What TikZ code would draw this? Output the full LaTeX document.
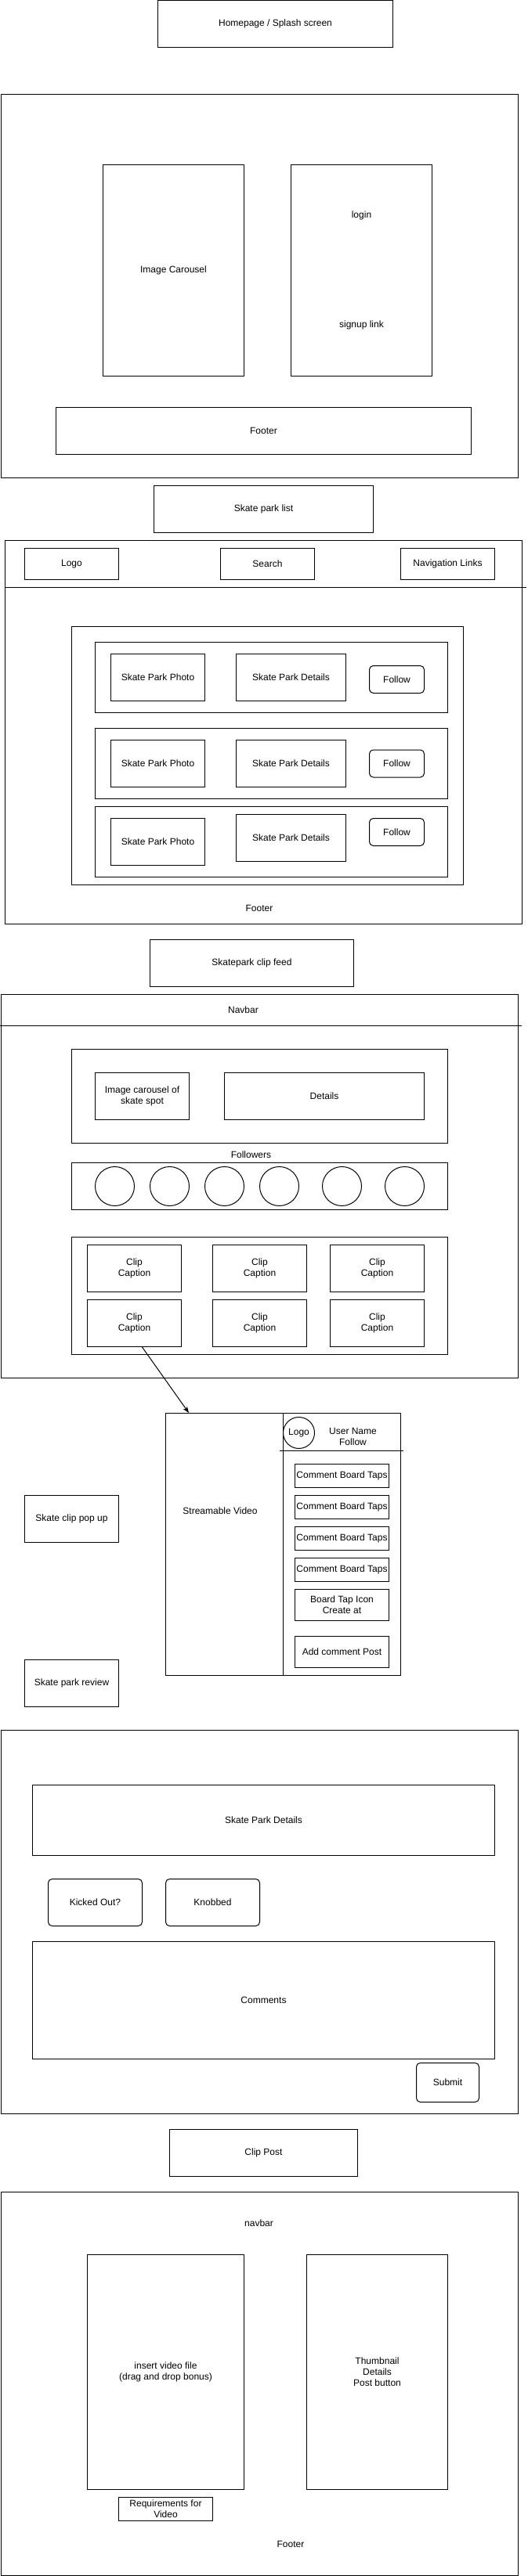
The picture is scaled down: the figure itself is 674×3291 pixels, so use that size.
\documentclass[tikz,border=0pt]{standalone}
\usepackage{fontspec}
\setmainfont{Liberation Sans}
\usetikzlibrary{arrows.meta}

\begin{document}
\begin{tikzpicture}[x=1pt,y=-1pt,line width=1pt,
  font=\fontsize{12}{14}\selectfont,
  box/.style={draw, rectangle, inner sep=0pt, align=center},
  rbox/.style={box, rounded corners=5pt},
  txt/.style={inner sep=0pt, align=center}]
\useasboundingbox (0,0) rectangle (674,3291);

% Homepage / Splash screen
\node[box, minimum width=300, minimum height=60] (home) at (351.5,30.5) {Homepage / Splash screen};
\draw (1.5,120.5) rectangle (661.5,610.5);
\node[box, minimum width=180, minimum height=270] (carousel) at (221.5,345.5) {Image Carousel};
\node[box, minimum width=180, minimum height=270] (auth) at (461.5,345.5) {};
\node[txt] (login) at (461.5,275.5) {login};
\node[txt] (signup) at (461.5,415.5) {signup link};
\node[box, minimum width=530, minimum height=60] (foot1) at (336.5,550.5) {Footer};

% Skate park list
\node[box, minimum width=280, minimum height=60] (list) at (336.5,650.5) {Skate park list};
\draw (6.5,690.5) rectangle (666.5,1180.5);
\draw (6.5,750.5) -- (671.5,750.5);
\node[box, minimum width=120, minimum height=40] (logo) at (91.5,720.5) {Logo};
\node[box, minimum width=120, minimum height=40] (search) at (341.5,720.5) {Search};
\node[box, minimum width=120, minimum height=40] (navlinks) at (571.5,720.5) {Navigation Links};
\draw (91.5,800.5) rectangle (591.5,1130.5);
\draw (121.5,820.5) rectangle (571.5,910.5);
\draw (121.5,930.5) rectangle (571.5,1020.5);
\draw (121.5,1030.5) rectangle (571.5,1120.5);
\node[box, minimum width=120, minimum height=60] (photo1) at (201.5,865.5) {Skate Park Photo};
\node[box, minimum width=140, minimum height=60] (details1) at (371.5,865.5) {Skate Park Details};
\node[rbox, minimum width=70, minimum height=35] (follow1) at (506.5,868) {Follow};
\node[box, minimum width=120, minimum height=60] (photo2) at (201.5,975.5) {Skate Park Photo};
\node[box, minimum width=140, minimum height=60] (details2) at (371.5,975.5) {Skate Park Details};
\node[rbox, minimum width=70, minimum height=35] (follow2) at (506.5,975.5) {Follow};
\node[box, minimum width=120, minimum height=60] (photo3) at (201.5,1075.5) {Skate Park Photo};
\node[box, minimum width=140, minimum height=60] (details3) at (371.5,1070.5) {Skate Park Details};
\node[rbox, minimum width=70, minimum height=35] (follow3) at (506.5,1063) {Follow};
\node[txt] (foot2) at (331,1160.5) {Footer};

% Skatepark clip feed
\node[box, minimum width=260, minimum height=60] (feed) at (321.5,1230.5) {Skatepark clip feed};
\draw (1.5,1270.5) rectangle (661.5,1760.5);
\node[txt] (navbar) at (310.5,1290.5) {Navbar};
\draw (0,1310.5) -- (665.5,1310.5);
\draw (91.5,1340.5) rectangle (571.5,1460.5);
\node[box, minimum width=120, minimum height=60] (spot) at (181.5,1400.5) {Image carousel of\\skate spot};
\node[box, minimum width=255, minimum height=60] (spotdetails) at (414,1400.5) {Details};
\node[txt] (followers) at (320.5,1475.5) {Followers};
\draw (91.5,1485.5) rectangle (571.5,1545.5);
\draw (146.5,1515.5) circle (25);
\draw (216.5,1515.5) circle (25);
\draw (286.5,1515.5) circle (25);
\draw (356.5,1515.5) circle (25);
\draw (436.5,1515.5) circle (25);
\draw (516.5,1515.5) circle (25);
\draw (91.5,1580.5) rectangle (571.5,1730.5);
\node[box, minimum width=120, minimum height=60] (c11) at (171.5,1620.5) {Clip\\Caption};
\node[box, minimum width=120, minimum height=60] (c12) at (331.5,1620.5) {Clip\\Caption};
\node[box, minimum width=120, minimum height=60] (c13) at (481.5,1620.5) {Clip\\Caption};
\node[box, minimum width=120, minimum height=60] (c21) at (171.5,1690.5) {Clip\\Caption};
\node[box, minimum width=120, minimum height=60] (c22) at (331.5,1690.5) {Clip\\Caption};
\node[box, minimum width=120, minimum height=60] (c23) at (481.5,1690.5) {Clip\\Caption};

% Skate clip pop up
\node[box, minimum width=120, minimum height=60] (popup) at (91.5,1940.5) {Skate clip pop up};
\node[box, minimum width=150, minimum height=335] (video) at (286.5,1973) {};
\node[box, minimum width=150, minimum height=335] (side) at (436.5,1973) {};
\node[txt] (stream) at (281,1930.5) {Streamable Video};
\node[draw, circle, minimum size=40, inner sep=0pt] (ulogo) at (381.5,1830.5) {Logo};
\node[txt] (user) at (450.5,1835.5) {User Name\\Follow};
\draw (356.5,1853.5) -- (514.5,1853.5);
\node[box, minimum width=120, minimum height=30] (tap1) at (436.5,1885.5) {Comment Board Taps};
\node[box, minimum width=120, minimum height=30] (tap2) at (436.5,1925.5) {Comment Board Taps};
\node[box, minimum width=120, minimum height=30] (tap3) at (436.5,1965.5) {Comment Board Taps};
\node[box, minimum width=120, minimum height=30] (tap4) at (436.5,2005.5) {Comment Board Taps};
\node[box, minimum width=120, minimum height=40] (tapicon) at (436.5,2050.5) {Board Tap Icon\\Create at};
\node[box, minimum width=120, minimum height=40] (addpost) at (436.5,2110.5) {Add comment Post};
\draw[-{Stealth[length=8pt,width=6pt,inset=2pt]}] ([xshift=10pt]c21.south) -- ([xshift=30pt]video.north west);

% Skate park review
\node[box, minimum width=120, minimum height=60] (review) at (91.5,2150.5) {Skate park review};
\draw (1.5,2210.5) rectangle (661.5,2700.5);
\node[box, minimum width=590, minimum height=90] (parkdetails) at (336.5,2325.5) {Skate Park Details};
\node[rbox, minimum width=120, minimum height=60] (kicked) at (121.5,2430.5) {Kicked Out?};
\node[rbox, minimum width=120, minimum height=60] (knobbed) at (271.5,2430.5) {Knobbed};
\node[box, minimum width=590, minimum height=150] (comments) at (336.5,2555.5) {Comments};
\node[rbox, minimum width=80, minimum height=50] (submit) at (571.5,2660.5) {Submit};

% Clip Post
\node[box, minimum width=240, minimum height=60] (clippost) at (336.5,2750.5) {Clip Post};
\draw (1.5,2800.5) rectangle (661.5,3290.5);
\node[txt] (navbar2) at (330.5,2840.5) {navbar};
\node[box, minimum width=200, minimum height=300] (insert) at (211.5,3030.5) {insert video file\\(drag and drop bonus)};
\node[box, minimum width=180, minimum height=300] (thumb) at (481.5,3030.5) {Thumbnail\\Details\\Post button};
\node[box, minimum width=120, minimum height=30] (reqs) at (211.5,3205.5) {Requirements for\\Video};
\node[txt] (foot3) at (371,3250.5) {Footer};
\end{tikzpicture}
\end{document}
